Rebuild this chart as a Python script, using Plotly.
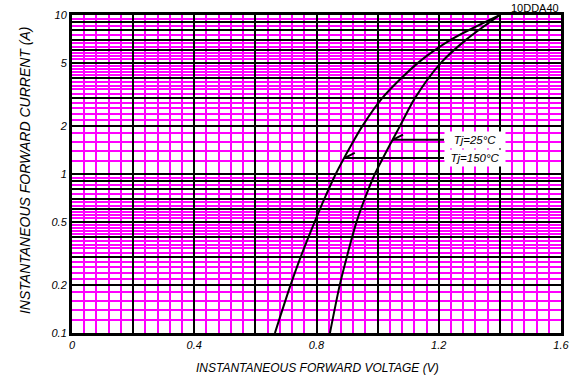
import numpy as np
import plotly.graph_objects as go

# ---- data ----
CURRENT_A = [0.1, 0.2, 0.3, 0.5, 0.7, 1.0, 1.5, 2.0, 3.0, 5.0, 7.0, 10.0]
VF_25C = [0.844, 0.876, 0.899, 0.931, 0.958, 0.991, 1.038, 1.073, 1.122, 1.207, 1.290, 1.400]
VF_150C = [0.664, 0.715, 0.748, 0.794, 0.826, 0.863, 0.912, 0.950, 1.015, 1.132, 1.240, 1.400]

SERIES_LABELS = ["Tj=25\u00b0C", "Tj=150\u00b0C"]
LABEL_CURRENT = [1.64, 1.26]        # current where each leader line touches its curve
LABEL_TEXT_V = [1.317, 1.317]       # voltage at centre of each label box

X_MAJOR = [0.0, 0.2, 0.4, 0.6, 0.8, 1.0, 1.2, 1.4, 1.6]
X_TICK_TEXT = ["0", "", "0.4", "", "0.8", "", "1.2", "", "1.6"]
X_MINOR_FRACTIONS = [0.04, 0.08, 0.12, 0.16]

DECADES = [0.1, 1.0]
Y_MAJOR_MULT = [1, 2, 3, 4, 5, 6, 7, 8, 9]
Y_LABELED = {0.1: "0.1", 0.2: "0.2", 0.5: "0.5", 1.0: "1", 2.0: "2", 5.0: "5", 10.0: "10"}
Y_MINOR_MULT = [1.2, 1.4, 1.6, 1.8, 2.2, 2.4, 2.6, 2.8, 3.2, 3.4, 3.6, 3.8,
                4.2, 4.4, 4.6, 4.8, 5.25, 5.5, 5.75, 6.33, 6.67, 7.5, 8.5, 9.5]

TITLE = "10DDA40"
X_TITLE = "INSTANTANEOUS FORWARD VOLTAGE (V)"
Y_TITLE = "INSTANTANEOUS FORWARD CURRENT (A)"

# ---- derived tick arrays ----
x_minor = [round(m + f, 4) for m in X_MAJOR[:-1] for f in X_MINOR_FRACTIONS]
y_major = [round(d * m, 4) for d in DECADES for m in Y_MAJOR_MULT] + [10.0]
y_text = [Y_LABELED.get(v, "") for v in y_major]
y_minor = [round(d * m, 5) for d in DECADES for m in Y_MINOR_MULT]

FONT = "Liberation Sans, Arial, sans-serif"

fig = go.Figure()
for v in (VF_25C, VF_150C):
    fig.add_trace(go.Scatter(x=v, y=CURRENT_A, mode="lines",
                             line=dict(color="black", width=2, shape="spline", smoothing=0.8),
                             showlegend=False, hoverinfo="skip"))

# leader lines / labels
for lbl, ic, tv, v in zip(SERIES_LABELS, LABEL_CURRENT, LABEL_TEXT_V, (VF_25C, VF_150C)):
    tip_v = float(np.interp(np.log10(ic), np.log10(CURRENT_A), v))
    ly = float(np.log10(ic))
    fig.add_annotation(x=tip_v, y=ly, xref="x", yref="y", ax=tv, ay=ly, axref="x", ayref="y",
                       text="<i>" + lbl + "</i>", showarrow=True, arrowhead=0, arrowwidth=2,
                       arrowcolor="black", standoff=0, bgcolor="white", borderpad=2, width=56,
                       font=dict(family=FONT, size=11.5, color="black"))
    # short barb at the tip
    fig.add_annotation(x=tip_v, y=ly, xref="x", yref="y", ax=12, ay=-6, text="",
                       showarrow=True, arrowhead=0, arrowwidth=2, arrowcolor="black", standoff=0)

fig.add_annotation(x=0.947, y=1.022, xref="paper", yref="paper", text=TITLE, showarrow=False,
                   font=dict(family=FONT, size=11, color="black"), xanchor="center", yanchor="middle")
fig.add_annotation(x=0.503, y=-0.110, xref="paper", yref="paper", text="<i>" + X_TITLE + "</i>",
                   showarrow=False, font=dict(family=FONT, size=12, color="black"),
                   xanchor="center", yanchor="middle")
fig.add_annotation(x=-0.096, y=0.5126, xref="paper", yref="paper", text="<i>" + Y_TITLE + "</i>",
                   showarrow=False, textangle=-90, font=dict(family=FONT, size=14, color="black"),
                   xanchor="center", yanchor="middle")

fig.update_layout(
    width=571, height=383,
    margin=dict(l=72, r=10, t=15, b=50, autoexpand=False),
    paper_bgcolor="white", plot_bgcolor="white",
    font=dict(family=FONT, size=11, color="black"),
)
fig.update_xaxes(
    range=[0, 1.6], tickmode="array", tickvals=X_MAJOR, ticktext=X_TICK_TEXT, automargin=False,
    showgrid=True, gridcolor="black", gridwidth=2, zeroline=False,
    showline=True, linecolor="black", linewidth=3, mirror=True, ticks="",
    tickfont=dict(family=FONT, size=11, color="black", style="italic"),
    minor=dict(tickvals=x_minor, showgrid=True, gridcolor="#ff00ff", gridwidth=2, ticks=""),
)
fig.update_yaxes(
    type="log", range=[-1, 1], tickmode="array", tickvals=y_major, ticktext=y_text, automargin=False,
    showgrid=True, gridcolor="black", gridwidth=2, zeroline=False,
    showline=True, linecolor="black", linewidth=3, mirror=True, ticks="",
    tickfont=dict(family=FONT, size=11, color="black", style="italic"),
    minor=dict(tickvals=y_minor, showgrid=True, gridcolor="#ff00ff", gridwidth=2, ticks=""),
)

# remove the default 8 px page margin so the 571x383 figure fills the window exactly
fig.write_html("out.html", config={"displayModeBar": False},
               post_script="document.body.style.margin='0';"
                           "document.documentElement.style.overflow='hidden';")
